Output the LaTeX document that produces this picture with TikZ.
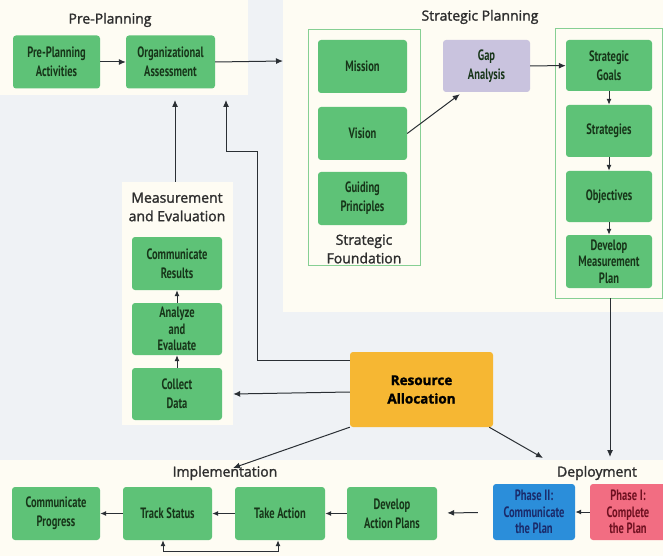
\documentclass[tikz,border=0pt]{standalone}
\usepackage{fontspec}
\setmainfont{Open Sans}
\newfontfamily\boxfont{PT Sans}[FakeStretch=0.7]
\newfontfamily\titlefont{Open Sans}[FakeBold=1.6]
\usetikzlibrary{arrows.meta}

\definecolor{bgblue}{HTML}{EFF2F5}
\definecolor{panelcream}{HTML}{FEFCF3}
\definecolor{boxgreen}{HTML}{5EC277}
\definecolor{boxtext}{HTML}{173519}
\definecolor{framegreen}{HTML}{86CF93}
\definecolor{gaplilac}{HTML}{C9C3DE}
\definecolor{resorange}{HTML}{F6B733}
\definecolor{phaseblue}{HTML}{2B8EDA}
\definecolor{phasebluetext}{HTML}{1A2A6A}
\definecolor{phasepink}{HTML}{F26D82}
\definecolor{phasepinktext}{HTML}{6E1020}
\definecolor{titlegray}{HTML}{2E2E2E}
\definecolor{linegray}{HTML}{2A2F34}

\tikzset{
  gbox/.style={fill=boxgreen, text=boxtext, rounded corners=3pt,
               minimum width=89pt, minimum height=53pt, inner sep=2pt,
               align=center, font=\boxfont\bfseries\fontsize{15}{19}\selectfont},
  tribox/.style={gbox, font=\boxfont\bfseries\fontsize{15}{16.5}\selectfont},
  panel/.style={fill=panelcream, inner sep=0pt},
  title/.style={font=\titlefont\fontsize{14}{18.5}\selectfont, text=titlegray, align=center},
  link/.style={draw=linegray, line width=1pt, -{Latex[length=7pt,width=6pt]}},
  shortlink/.style={draw=linegray, line width=1pt, -{Latex[length=6pt,width=5pt]}},
  frame/.style={draw=framegreen, line width=1pt}
}

\begin{document}
\begin{tikzpicture}[x=1pt, y=-1pt]
  % background and panels
  \fill[bgblue] (0,0) rectangle (663,556);
  \useasboundingbox (0,0) rectangle (663,556);
  \fill[panelcream] (0,0) rectangle (248,95);
  \fill[panelcream] (283,0) rectangle (663,312);
  \fill[panelcream] (0,460) rectangle (663,556);
  \node[panel, minimum width=111pt, minimum height=243pt] (mepanel) at (177.5,303.5) {};

  % pre-planning
  \node[title] (pptitle) at (110,20) {Pre-Planning};
  \node[gbox, minimum width=87pt] (preact) at (56.5,62) {Pre-Planning\\Activities};
  \node[gbox] (orgassess) at (170.5,62) {Organizational\\Assessment};

  % strategic planning
  \node[title] (sptitle) at (480,17) {Strategic Planning};
  \draw[frame] (308,30) rectangle (420,265);
  \draw[frame] (555,29) rectangle (662,298);
  \node[gbox] (mission) at (362.5,66.5) {Mission};
  \node[gbox] (vision) at (362.5,133.5) {Vision};
  \node[gbox] (guiding) at (362.5,198.5) {Guiding\\Principles};
  \node[title] (sftitle) at (364,249) {Strategic\\Foundation};
  \node[gbox, fill=gaplilac, minimum width=87pt, minimum height=52pt] (gap) at (486.5,66) {Gap\\Analysis};
  \node[gbox, minimum width=86pt, minimum height=51pt] (sgoals) at (609,65.5) {Strategic\\Goals};
  \node[gbox, minimum width=86pt, minimum height=52pt] (strategies) at (609,131) {Strategies};
  \node[gbox, minimum width=86pt, minimum height=51pt] (objectives) at (609,196.5) {Objectives};
  \node[tribox, minimum width=86pt] (devmeas) at (609,261.5) {Develop\\Measurement\\Plan};

  % measurement and evaluation
  \node[title] (metitle) at (177,207) {Measurement\\and Evaluation};
  \node[gbox, minimum width=90pt] (commres) at (177,263.5) {Communicate\\Results};
  \node[tribox, minimum width=90pt, minimum height=52pt] (analyze) at (177,329) {Analyze\\and\\Evaluate};
  \node[gbox, minimum width=90pt, minimum height=52pt] (collect) at (177,394) {Collect\\Data};

  % resource allocation
  \node[gbox, fill=resorange, text=black, minimum width=143pt, minimum height=75pt,
        font=\titlefont\bfseries\fontsize{13.5}{18.5}\selectfont] (resalloc) at (421.5,389.5) {Resource\\Allocation};

  % implementation and deployment
  \node[title] (imtitle) at (225,473) {Implementation};
  \node[title] (dptitle) at (597,473) {Deployment};
  \node[gbox, minimum width=88pt] (commprog) at (56,513.5) {Communicate\\Progress};
  \node[gbox] (track) at (167.5,513.5) {Track Status};
  \node[gbox, minimum width=90pt] (takeact) at (280,513.5) {Take Action};
  \node[gbox, minimum width=90pt] (devact) at (392,513.5) {Develop\\Action Plans};
  \node[tribox, fill=phaseblue, text=phasebluetext, minimum width=82pt, minimum height=56pt] (phase2) at (534,512) {Phase II:\\Communicate\\the Plan};
  \node[tribox, fill=phasepink, text=phasepinktext, minimum width=76pt, minimum height=56pt] (phase1) at (628,512) {Phase I:\\Complete\\the Plan};

  % free ends
  \coordinate (oaout) at (283,61);
  \coordinate (meup) at (175,100);
  \coordinate (raup) at (226,100);
  \coordinate (implin) at (233,468);
  \coordinate (deplin) at (543,458);
  \coordinate (spdown) at (610,457);

  % connectors
  \draw[link] (preact) -- (orgassess);
  \draw[link] (orgassess.east) -- (oaout);
  \draw[link] (vision.east) -- ([xshift=17pt,yshift=-2pt]gap.south west);
  \draw[link] (gap) -- (sgoals);
  \draw[shortlink] (sgoals) -- (strategies);
  \draw[shortlink] (strategies) -- (objectives);
  \draw[shortlink] (objectives) -- (devmeas);
  \draw[link] (610,298) -- (spdown);
  \draw[link] (mepanel.north -| meup) -- (meup);
  \draw[shortlink] (analyze) -- (commres);
  \draw[shortlink] (collect) -- (analyze);
  \draw[link] ([yshift=29pt]resalloc.west) -- (257,360.5) -- (257,152) -- (226,152) -- (raup);
  \draw[link] ([yshift=-2.5pt]resalloc.west) -- (mepanel.east |- collect.east);
  \draw[link] (resalloc.south west) -- (implin);
  \draw[link] ([xshift=-4pt]resalloc.south east) -- (deplin);
  \draw[shortlink] (phase1) -- (phase2);
  \draw[link, shorten <=15pt, shorten >=10pt] (phase2) -- (devact);
  \draw[shortlink] (devact) -- (takeact);
  \draw[shortlink] (takeact) -- (track);
  \draw[shortlink] (track) -- (commprog);
  \draw[shortlink, <->, >={Latex[length=6pt,width=5pt]}] ([xshift=-4.5pt]track.south) -- ++(0,11) -| ([xshift=-2pt]takeact.south);
\end{tikzpicture}
\end{document}
